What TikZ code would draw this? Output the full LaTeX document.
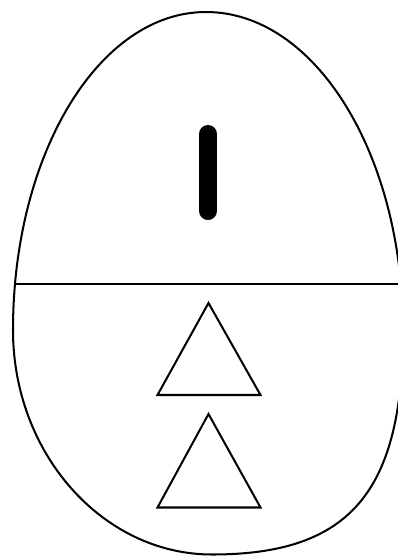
\documentclass[tikz,border=0pt]{standalone}
\usepackage{tikz}
\definecolor{ink}{HTML}{000000}
\definecolor{paper}{HTML}{FFFFFF}
\newcommand{\eggoutline}{(206,12) .. controls (315,12) and (403,154) .. (403,330)
  .. controls (403,492) and (350,554.5) .. (212,554.5)
  .. controls (103,554.5) and (13,454) .. (13,330)
  .. controls (13,154) and (99,12) .. (206,12) -- cycle}
\tikzset{
  shellline/.style={draw=ink,line width=1.15pt},
  splitline/.style={draw=ink,line width=1.15pt},
  markbar/.style={draw=ink,line width=0.36cm,line cap=round},
  glyphtri/.style={draw=ink,line width=1.15pt,line join=miter}
}
\begin{document}
\begin{tikzpicture}[x=0.02cm,y=-0.02cm]
  \useasboundingbox[fill=paper] (0,0) rectangle (398,556);
  \draw[shellline] \eggoutline;
  \begin{scope}
    \clip \eggoutline;
    \draw[splitline] (0,284) -- (398,284);
  \end{scope}
  \draw[markbar] (208,134) -- (208,211);
  \draw[glyphtri] (208.5,303) -- (157.5,395) -- (260.5,395) -- cycle;
  \draw[glyphtri] (208.5,414) -- (157.5,507.5) -- (260.5,507.5) -- cycle;
\end{tikzpicture}
\end{document}
